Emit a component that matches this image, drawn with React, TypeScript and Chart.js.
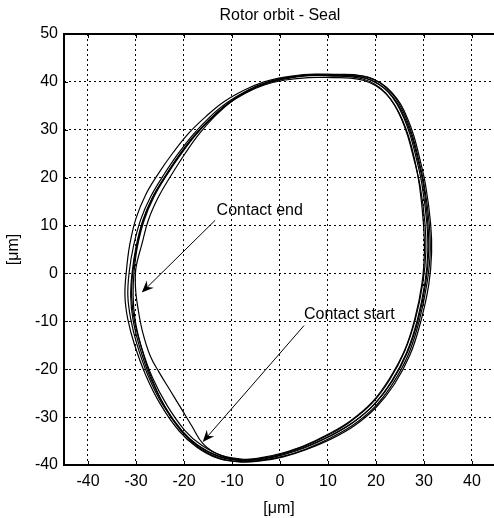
import React, { useEffect, useRef } from "react";
import { Chart, registerables } from "chart.js";

Chart.register(...registerables);

const FONT = "'Liberation Sans', Arial, Helvetica, sans-serif";

const chartTitle = "Rotor orbit - Seal";
const axisLabel = "[μm]";
const xTicks = [-40, -30, -20, -10, 0, 10, 20, 30, 40];
const yTicks = [-40, -30, -20, -10, 0, 10, 20, 30, 40, 50];

// Orbit revolutions (x, y) in µm
const loopA: number[][] = [
  [11.5, 41.4], [15, 41.3], [17.8, 40.8], [20.3, 39.7], [22.5, 37.9], [24.3, 35.5], [25.8, 32.5], [27.1, 29], [28.3, 24.5],
  [29.6, 18.5], [30.6, 10.6], [30.8, 4.5], [30.2, -2], [28.6, -9.8], [26.4, -16.5], [23.2, -22.6], [19.5, -27.5],
  [15, -31.3], [10.4, -34], [5.2, -36.4], [0.6, -37.9], [-3.6, -38.8], [-7.8, -39.1], [-12.6, -38.3], [-16.8, -36.2],
  [-20.3, -33], [-24, -27.8], [-27, -21.8], [-29.3, -15.2], [-30.6, -9.8], [-31.1, -4.8], [-30.8, 0.2], [-30, 5.5],
  [-28.6, 11], [-26.6, 15.8], [-23.9, 20.3], [-21, 24.6], [-17.8, 28.8], [-14.4, 32.4], [-10.7, 35.6], [-6.8, 38],
  [-2.8, 39.7], [1.4, 40.7], [6.2, 41.3], [11.5, 41.4],
];
const loopB: number[][] = [
  [12, 41.6], [15.5, 41.5], [18.3, 41], [20.8, 39.8], [23, 37.9], [24.8, 35.5], [26.3, 32.4], [27.6, 28.8], [28.8, 24.2],
  [30.1, 18.2], [31.1, 10.4], [31.3, 4.2], [30.6, -2.3], [29, -10], [26.8, -16.8], [23.5, -23], [19.8, -27.8],
  [15.3, -31.6], [10.6, -34.3], [5.3, -36.7], [0.6, -38.2], [-3.8, -39], [-8.2, -39.3], [-12.8, -38.5], [-17, -36.3],
  [-20.5, -33], [-24.1, -27.6], [-26.9, -21.5], [-29, -15], [-30.2, -9.6], [-30.6, -4.6], [-30.4, 0.4], [-29.7, 5.6],
  [-28.3, 11.1], [-26.3, 15.9], [-23.6, 20.5], [-20.7, 24.8], [-17.5, 29], [-14.1, 32.6], [-10.4, 35.8], [-6.6, 38.2],
  [-2.5, 39.9], [1.8, 40.9], [6.6, 41.5], [12, 41.6],
];
const loopContact: number[][] = [
  [11, 41.2], [14.5, 41.1], [17.3, 40.6], [19.8, 39.5], [22, 37.7], [23.8, 35.3], [25.3, 32.3], [26.6, 28.8], [27.8, 24.3],
  [29.2, 18.3], [30.2, 10.6], [30.4, 4.6], [29.8, -1.8], [28.2, -9.6], [26, -16.2], [22.8, -22.3], [19.1, -27.2],
  [14.6, -31], [10, -33.8], [4.8, -36.2], [0.3, -37.7], [-3.9, -38.6], [-8, -38.9], [-12.4, -38], [-16, -35.6],
  [-18.4, -31.8], [-20.4, -28.5], [-22.9, -24.4], [-25.2, -20.6], [-27, -17.3], [-28.6, -12.3], [-29.6, -7.2],
  [-30.1, -3], [-30, 1.2], [-28.8, 6], [-27.4, 11.2], [-25.3, 16], [-22.6, 20.6], [-19.8, 25], [-16.8, 29.2],
  [-13.6, 32.8], [-10, 36], [-6.3, 38.4], [-2.3, 40], [2, 41], [6.6, 41.4], [11, 41.2],
];
const loopD: number[][] = [
  [11.2, 40.9], [14.7, 40.8], [17.5, 40.3], [20, 39.2], [22.2, 37.4], [24, 35], [25.5, 32.1], [26.8, 28.6], [28, 24.1],
  [29.1, 18.1], [29.9, 10.4], [30.1, 4.4], [29.6, -2], [28.1, -9.5], [26, -16], [22.8, -22], [19.2, -26.9],
  [14.8, -30.7], [10.2, -33.5], [5, -36], [0.5, -37.5], [-3.6, -38.4], [-7.6, -38.8], [-12.2, -38], [-16.3, -35.9],
  [-19.8, -32.8], [-23.5, -27.6], [-26.6, -21.7], [-28.9, -15.3], [-30.3, -10], [-30.9, -5], [-30.7, 0], [-29.9, 5.3],
  [-28.6, 10.7], [-26.7, 15.5], [-24.1, 20], [-21.3, 24.3], [-18.1, 28.5], [-14.7, 32.1], [-11, 35.3], [-7.1, 37.7],
  [-3.1, 39.4], [1.1, 40.4], [6, 40.9], [11.2, 40.9],
];
const loopE: number[][] = [
  [11.8, 41.3], [15.3, 41.2], [18.1, 40.7], [20.6, 39.5], [22.8, 37.7], [24.6, 35.3], [26.1, 32.3], [27.4, 28.8], [28.6, 24.3],
  [29.9, 18.4], [30.8, 10.7], [31, 4.7], [30.4, -1.8], [28.8, -9.7], [26.6, -16.4], [23.4, -22.5], [19.6, -27.4],
  [15.1, -31.2], [10.5, -33.9], [5.1, -36.3], [0.4, -37.8], [-3.9, -38.7], [-8.1, -39], [-12.9, -38.1], [-17.1, -35.9],
  [-20.7, -32.6], [-24.5, -27.3], [-27.5, -21.3], [-29.8, -14.8], [-31.1, -9.5], [-31.7, -4.6], [-31.4, 0.4], [-30.5, 5.8],
  [-29, 11.3], [-26.9, 16.1], [-24.2, 20.6], [-21.3, 24.9], [-18.1, 29], [-14.7, 32.6], [-11, 35.7], [-7, 38.1],
  [-3, 39.8], [1.2, 40.8], [6.1, 41.4], [11.8, 41.3],
];
const loopF: number[][] = [
  [12.3, 41.5], [15.8, 41.4], [18.6, 40.9], [21.1, 39.7], [23.3, 37.8], [25.1, 35.4], [26.6, 32.3], [27.9, 28.7], [29.1, 24.1],
  [30.4, 18.1], [31.4, 10.3], [31.6, 4.3], [31, -2.4], [29.3, -10.2], [27.1, -17], [23.8, -23.2], [20, -28],
  [15.5, -31.8], [10.8, -34.5], [5.4, -36.8], [0.7, -38.3], [-3.7, -39.1], [-8, -39.4], [-13, -38.6], [-17.3, -36.3],
  [-21, -32.9], [-24.8, -27.5], [-27.9, -21.4], [-30.3, -14.9], [-31.7, -9.6], [-32.3, -4.7], [-32, 0.5], [-31.3, 6],
  [-30, 11.5], [-28, 16.4], [-25.3, 20.9], [-22.3, 25.2], [-19, 29.3], [-15.4, 32.8], [-11.6, 35.9], [-7.4, 38.3],
  [-3.3, 40], [1, 41], [6, 41.6], [12.3, 41.5],
];
const loops = [loopA, loopB, loopContact, loopD, loopE, loopF];

// Annotations: text anchor (left, middle) and arrow from -> to, in data units
const noteLabels = ["Contact end", "Contact start"];
const noteText: number[][] = [[-13.2, 13.2], [5, -8.5]];
const noteFrom: number[][] = [[-13.5, 11.1], [5, -10.9]];
const noteTo: number[][] = [[-28.8, -4], [-16.1, -35.2]];

const overlay = {
  id: "overlay",
  afterDraw(chart: any) {
    const { ctx, chartArea: a, scales } = chart;
    const xs = scales.x;
    const ys = scales.y;
    ctx.save();
    // inner ticks
    ctx.strokeStyle = "#000";
    ctx.lineWidth = 1;
    ctx.setLineDash([]);
    ctx.beginPath();
    for (const v of xTicks) {
      const px = Math.round(xs.getPixelForValue(v)) + 0.5;
      ctx.moveTo(px, a.bottom);
      ctx.lineTo(px, a.bottom - 4);
      ctx.moveTo(px, a.top);
      ctx.lineTo(px, a.top + 4);
    }
    for (const v of yTicks) {
      const py = Math.round(ys.getPixelForValue(v)) + 0.5;
      ctx.moveTo(a.left, py);
      ctx.lineTo(a.left + 4, py);
    }
    ctx.stroke();
    // frame
    ctx.lineWidth = 2;
    ctx.beginPath();
    ctx.moveTo(a.right + 2, a.top);
    ctx.lineTo(a.left, a.top);
    ctx.lineTo(a.left, a.bottom);
    ctx.lineTo(a.right + 2, a.bottom);
    ctx.stroke();
    // annotations
    ctx.fillStyle = "#000";
    ctx.font = `16px ${FONT}`;
    ctx.textAlign = "left";
    ctx.textBaseline = "middle";
    noteLabels.forEach((label, i) => {
      const tx = xs.getPixelForValue(noteText[i][0]);
      const ty = ys.getPixelForValue(noteText[i][1]);
      ctx.fillText(label, tx, ty);
      const x0 = xs.getPixelForValue(noteFrom[i][0]);
      const y0 = ys.getPixelForValue(noteFrom[i][1]);
      const x1 = xs.getPixelForValue(noteTo[i][0]);
      const y1 = ys.getPixelForValue(noteTo[i][1]);
      const ang = Math.atan2(y1 - y0, x1 - x0);
      const L = 12;
      const W = 5;
      const N = 8;
      ctx.lineWidth = 1;
      ctx.beginPath();
      ctx.moveTo(x0, y0);
      ctx.lineTo(x1 - Math.cos(ang) * N, y1 - Math.sin(ang) * N);
      ctx.stroke();
      const bx = x1 - Math.cos(ang) * L;
      const by = y1 - Math.sin(ang) * L;
      const nx = -Math.sin(ang);
      const ny = Math.cos(ang);
      ctx.beginPath();
      ctx.moveTo(x1, y1);
      ctx.lineTo(bx + nx * W, by + ny * W);
      ctx.lineTo(x1 - Math.cos(ang) * N, y1 - Math.sin(ang) * N);
      ctx.lineTo(bx - nx * W, by - ny * W);
      ctx.closePath();
      ctx.fill();
    });
    // title
    ctx.textAlign = "center";
    ctx.textBaseline = "middle";
    ctx.fillText(chartTitle, xs.getPixelForValue(0), 16);
    ctx.restore();
  },
};

export default function App() {
  const ref = useRef<HTMLCanvasElement | null>(null);
  useEffect(() => {
    document.body.style.margin = "0";
    document.body.style.overflow = "hidden";
    const canvas = ref.current;
    if (!canvas) return;
    const chart = new Chart(canvas, {
      type: "scatter",
      data: {
        datasets: loops.map((loop, i) => ({
          label: "rev" + i,
          data: loop.map(([x, y]) => ({ x, y })),
          showLine: true,
          borderColor: "#000",
          borderWidth: 1.2,
          pointRadius: 0,
          tension: 0.4,
          fill: false,
        })),
      },
      options: {
        responsive: false,
        animation: false,
        devicePixelRatio: 1,
        layout: { padding: { top: 34, right: 0, left: 0, bottom: 0 } },
        plugins: {
          legend: { display: false },
          tooltip: { enabled: false },
          title: { display: false },
        },
        scales: {
          x: {
            type: "linear",
            min: -45,
            max: 44.6,
            afterFit: (s: any) => {
              s.height = 53;
            },
            afterBuildTicks: (s: any) => {
              s.ticks = xTicks.map((v) => ({ value: v }));
            },
            grid: { color: "#000", lineWidth: 1, drawTicks: false, tickLength: 0 },
            border: { display: false, dash: [2, 3] },
            ticks: { color: "#000", font: { family: FONT, size: 16 }, padding: 7, maxRotation: 0, autoSkip: false, callback: (v: any) => String(v) },
            title: { display: true, text: axisLabel, color: "#000", font: { family: FONT, size: 16 }, padding: { top: 0, bottom: 0 } },
          },
          y: {
            type: "linear",
            min: -40,
            max: 50,
            afterFit: (s: any) => {
              s.width = 64;
            },
            afterBuildTicks: (s: any) => {
              s.ticks = yTicks.map((v) => ({ value: v }));
            },
            grid: { color: "#000", lineWidth: 1, drawTicks: false, tickLength: 0 },
            border: { display: false, dash: [2, 3] },
            ticks: { color: "#000", font: { family: FONT, size: 16 }, padding: 6, autoSkip: false, callback: (v: any) => String(v) },
            title: { display: true, text: axisLabel, color: "#000", font: { family: FONT, size: 16 }, padding: { top: 4, bottom: 0 } },
          },
        },
      },
      plugins: [overlay],
    });
    return () => chart.destroy();
  }, []);
  return (
    <div style={{ width: 494, height: 518 }}>
      <canvas ref={ref} width={494} height={518} style={{ display: "block", width: 494, height: 518 }} />
    </div>
  );
}
